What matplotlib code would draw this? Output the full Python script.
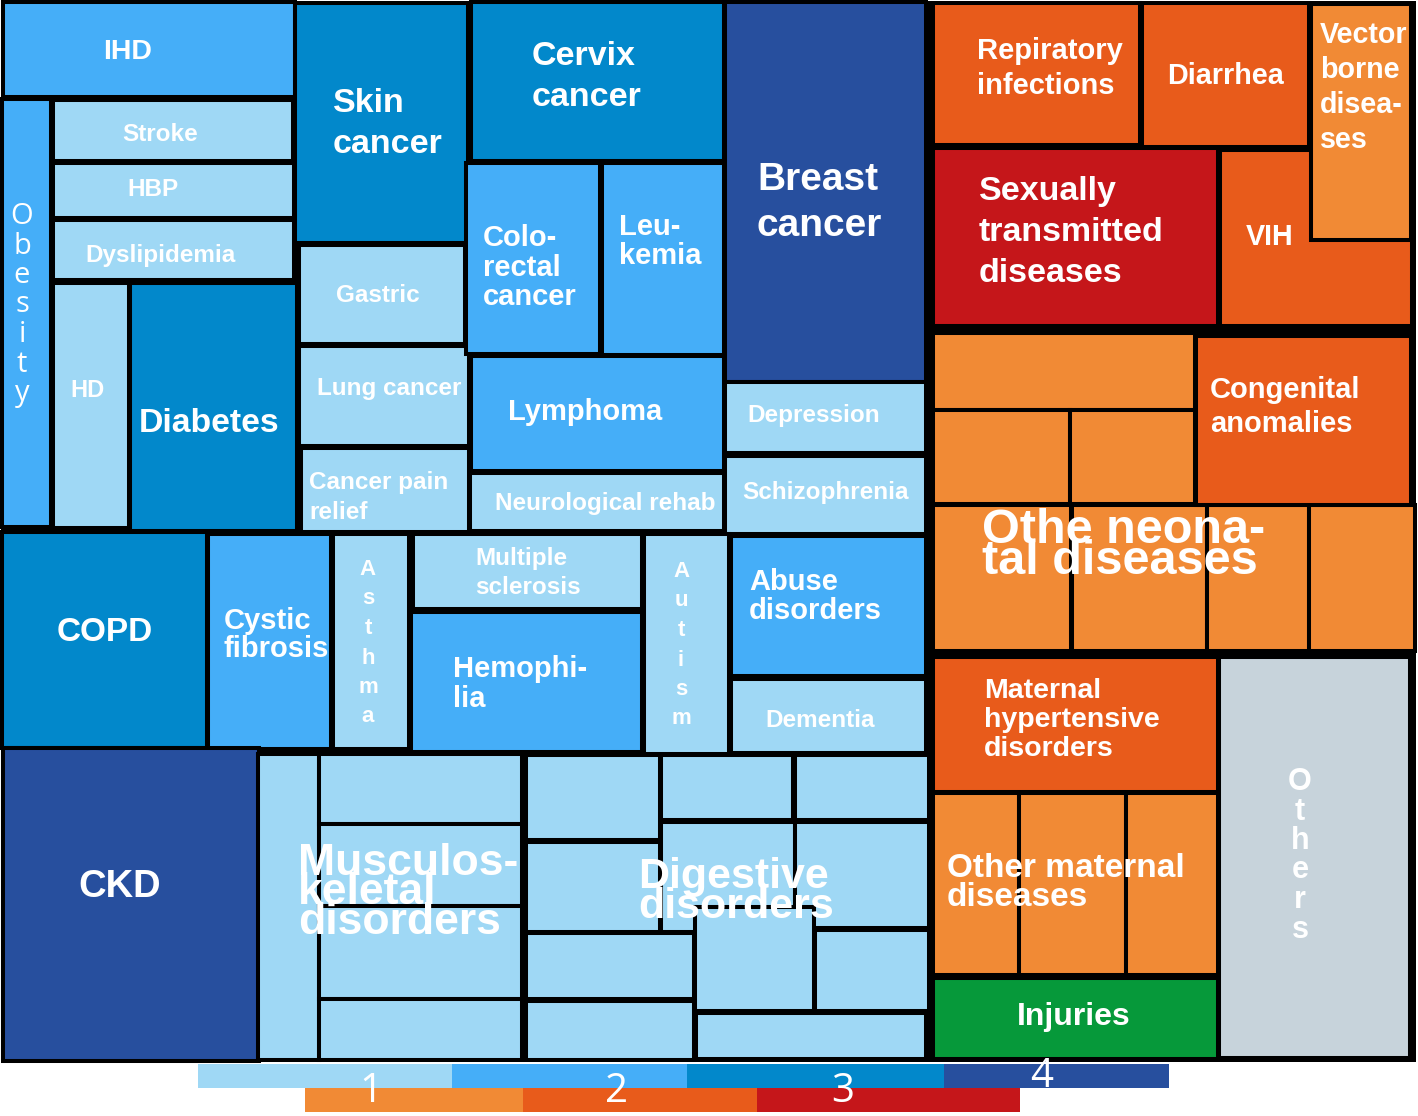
import matplotlib.pyplot as plt
from matplotlib.patches import Rectangle

plt.rcParams['font.family'] = ['Liberation Sans', 'DejaVu Sans']

# fill colour for each burden level
blue = {1: '#9fd8f5', 2: '#45aef8', 3: '#0288cb', 4: '#274f9e'}
orange = {1: '#f18a35', 2: '#e85b1b', 3: '#c5161a'}
green = '#06993a'
grey = '#c7d3db'

# treemap cells: (level, x0, y0, x1, y1) in image pixels
blue_cells = [
    (2, 5, 4, 293, 95),        # IHD
    (2, 4, 101, 49, 525),      # Obesity
    (1, 55, 102, 291, 159),    # Stroke
    (1, 55, 165, 292, 216),    # HBP
    (1, 55, 222, 292, 278),    # Dyslipidemia
    (1, 55, 285, 127, 526),    # HD
    (3, 132, 285, 295, 529),   # Diabetes
    (3, 297, 5, 466, 241),     # Skin cancer
    (1, 301, 247, 463, 342),   # Gastric
    (1, 301, 348, 467, 444),   # Lung cancer
    (1, 303, 450, 467, 530),   # Cancer pain relief
    (3, 473, 4, 722, 159),     # Cervix cancer
    (2, 468, 165, 598, 352),   # Colorectal cancer
    (2, 604, 165, 722, 353),   # Leukemia
    (2, 473, 358, 722, 469),   # Lymphoma
    (1, 472, 475, 722, 529),   # Neurological rehab
    (4, 727, 4, 924, 380),     # Breast cancer
    (1, 727, 384, 924, 451),   # Depression
    (1, 727, 458, 924, 532),   # Schizophrenia
    (3, 4, 534, 205, 746),     # COPD
    (2, 210, 536, 329, 747),   # Cystic fibrosis
    (1, 335, 536, 407, 747),   # Asthma
    (1, 415, 536, 640, 607),   # Multiple sclerosis
    (2, 413, 614, 640, 750),   # Hemophilia
    (1, 646, 536, 727, 752),   # Autism
    (2, 733, 538, 924, 674),   # Abuse disorders
    (1, 733, 681, 924, 751),   # Dementia
    (4, 5, 750, 257, 1059),    # CKD
    # musculoskeletal disorders
    (1, 260, 756, 317, 1058),
    (1, 321, 756, 520, 822),
    (1, 321, 826, 520, 904),
    (1, 321, 908, 520, 997),
    (1, 321, 1001, 520, 1058),
    # digestive disorders
    (1, 528, 757, 658, 838),
    (1, 528, 844, 658, 930),
    (1, 528, 935, 692, 997),
    (1, 528, 1003, 692, 1058),
    (1, 663, 757, 791, 818),
    (1, 797, 757, 927, 818),
    (1, 663, 824, 793, 930),
    (1, 797, 824, 927, 926),
    (1, 697, 909, 812, 1009),
    (1, 817, 932, 927, 1009),
    (1, 698, 1015, 924, 1057),
]

orange_cells = [
    (2, 935, 5, 1138, 143),     # Respiratory infections
    (2, 1144, 5, 1307, 145),    # Diarrhea
    (2, 1222, 152, 1410, 324),  # VIH
    (1, 1313, 6, 1409, 238),    # Vector borne diseases
    (3, 935, 150, 1216, 324),   # Sexually transmitted diseases
    # other neonatal diseases
    (1, 935, 335, 1193, 408),
    (1, 935, 412, 1068, 502),
    (1, 1072, 412, 1193, 502),
    (1, 935, 507, 1069, 649),
    (1, 1074, 507, 1205, 649),
    (1, 1209, 507, 1307, 649),
    (1, 1311, 507, 1413, 649),
    (2, 1198, 338, 1409, 503),  # Congenital anomalies
    (2, 935, 659, 1216, 790),   # Maternal hypertensive disorders
    # other maternal diseases
    (1, 935, 795, 1017, 973),
    (1, 1021, 795, 1124, 973),
    (1, 1128, 795, 1216, 973),
]

other_cells = [
    (green, 935, 980, 1216, 1057),   # Injuries
    (grey, 1221, 659, 1408, 1056),   # Others
]

# labels: (x, baseline y, lines, font size, line step, alignment)
labels = [
    (128, 59, ['IHD'], 20.5, 0, 'center'),
    (160, 141, ['Stroke'], 17.5, 0, 'center'),
    (153, 196, ['HBP'], 17.5, 0, 'center'),
    (85, 262, ['Dyslipidemia'], 17.5, 0, 'left'),
    (70, 397, ['HD'], 17, 0, 'left'),
    (139, 432, ['Diabetes'], 24.3, 0, 'left'),
    (333, 112, ['Skin', 'cancer'], 24.5, 41, 'left'),
    (336, 302, ['Gastric'], 17.5, 0, 'left'),
    (317, 395, ['Lung cancer'], 17.5, 0, 'left'),
    (309, 489, ['Cancer pain', 'relief'], 17.5, 30, 'left'),
    (532, 65, ['Cervix', 'cancer'], 24.5, 41, 'left'),
    (483, 246, ['Colo-', 'rectal', 'cancer'], 21, 29.5, 'left'),
    (619, 235, ['Leu-', 'kemia'], 21, 29, 'left'),
    (757, 190, ['Breast', 'cancer'], 28, 46, 'left'),
    (508, 420, ['Lymphoma'], 21, 0, 'left'),
    (495, 510, ['Neurological rehab'], 17.5, 0, 'left'),
    (747, 422, ['Depression'], 17.5, 0, 'left'),
    (742, 499, ['Schizophrenia'], 17.5, 0, 'left'),
    (57, 641, ['COPD'], 24, 0, 'left'),
    (224, 629, ['Cystic', 'fibrosis'], 21, 28, 'left'),
    (475, 565, ['Multiple', 'sclerosis'], 17.5, 29, 'left'),
    (453, 677, ['Hemophi-', 'lia'], 21, 30, 'left'),
    (749, 590, ['Abuse', 'disorders'], 21, 29, 'left'),
    (765, 727, ['Dementia'], 17.5, 0, 'left'),
    (78, 897, ['CKD'], 27.5, 0, 'left'),
    (298, 875, ['Musculos-', 'keletal', 'disorders'], 32, 29.5, 'left'),
    (638, 888, ['Digestive', 'disorders'], 31, 30, 'left'),
    (977, 59, ['Repiratory', 'infections'], 21, 35, 'left'),
    (1167, 84, ['Diarrhea'], 20.7, 0, 'left'),
    (1320, 43, ['Vector', 'borne', 'disea-', 'ses'], 20.6, 35, 'left'),
    (979, 200, ['Sexually', 'transmitted', 'diseases'], 24.5, 41, 'left'),
    (1246, 245, ['VIH'], 20.7, 0, 'left'),
    (1210, 398, ['Congenital', 'anomalies'], 21, 34, 'left'),
    (982, 543, ['Othe neona-', 'tal diseases'], 35, 31, 'left'),
    (984, 698, ['Maternal', 'hypertensive', 'disorders'], 20.5, 29, 'left'),
    (947, 877, ['Other maternal', 'diseases'], 24, 29, 'left'),
    (1074, 1025, ['Injuries'], 23, 0, 'center'),
]

# labels written one letter under the other: (x, first baseline, word, size, weight, font)
stacked = [
    (22, 224, 'Obesity', 21, 'normal', 'Open Sans'),
    (368, 575, 'Asthma', 16, 'bold', 'Liberation Sans'),
    (681, 577, 'Autism', 16, 'bold', 'Liberation Sans'),
    (1300, 790, 'Others', 22, 'bold', 'Liberation Sans'),
]
letter_step = 29.5

# colour key bars
blue_key_edges = [198, 452, 687, 944, 1169]
orange_key_edges = [305, 523, 757, 1020]
key_numbers = ['1', '2', '3', '4']
key_number_pos = [(371, 1102), (617, 1102), (843, 1102), (1042, 1087)]


def cell(ax, color, x0, y0, x1, y1):
    # edge of 4 px centred on the outer box leaves the fill exactly inside
    ax.add_patch(Rectangle((x0 - 2, y0 - 2), x1 - x0 + 4, y1 - y0 + 4,
                           facecolor=color, edgecolor='black', linewidth=2.9))


fig = plt.figure(figsize=(14.18, 11.16), dpi=100)
ax = fig.add_axes([0, 0, 1, 1])
ax.set_xlim(0, 1418)
ax.set_ylim(1116, 0)
ax.axis('off')

ax.add_patch(Rectangle((1, 1), 1415, 1061, facecolor='black', edgecolor='none'))

for lvl, x0, y0, x1, y1 in blue_cells:
    cell(ax, blue[lvl], x0, y0, x1, y1)
for lvl, x0, y0, x1, y1 in orange_cells:
    cell(ax, orange[lvl], x0, y0, x1, y1)
for col, x0, y0, x1, y1 in other_cells:
    cell(ax, col, x0, y0, x1, y1)

for x, y, lines, size, step, ha in labels:
    for i, line in enumerate(lines):
        ax.text(x, y + i * step, line, color='white', fontsize=size,
                fontweight='bold', ha=ha, va='baseline')

for x, y, word, size, weight, fam in stacked:
    for i, ch in enumerate(word):
        ax.text(x, y + i * letter_step, ch, color='white', fontsize=size,
                fontweight=weight, family=[fam, 'DejaVu Sans'],
                ha='center', va='baseline')

# colour key
for i in range(4):
    ax.add_patch(Rectangle((blue_key_edges[i], 1064),
                           blue_key_edges[i + 1] - blue_key_edges[i], 24,
                           facecolor=blue[i + 1], edgecolor='none'))
for i in range(3):
    ax.add_patch(Rectangle((orange_key_edges[i], 1088),
                           orange_key_edges[i + 1] - orange_key_edges[i], 24,
                           facecolor=orange[i + 1], edgecolor='none'))
for num, (x, y) in zip(key_numbers, key_number_pos):
    ax.text(x, y, num, color='white', fontsize=29, fontweight='normal',
            family=['Open Sans', 'DejaVu Sans'], ha='center', va='baseline')

fig.savefig('out.png', dpi=100)
